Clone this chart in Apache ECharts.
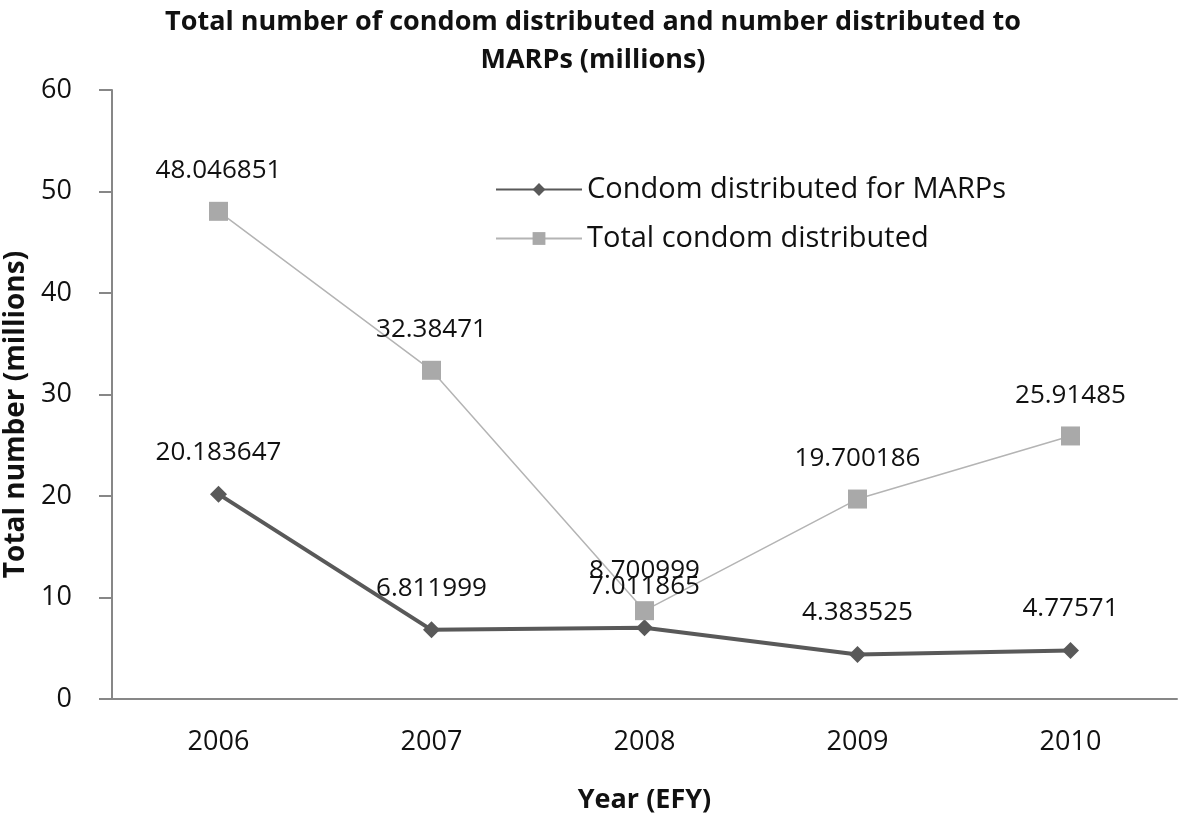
<!DOCTYPE html>
<html>
<head>
<meta charset="utf-8">
<script src="https://cdn.jsdelivr.net/npm/echarts@6/dist/echarts.min.js"></script>
<style>html,body{margin:0;padding:0;background:#fff;}#c{width:1181px;height:818px;}</style>
</head>
<body>
<div id="c"></div>
<script>
const categories = ['2006', '2007', '2008', '2009', '2010'];
const marps = [20.183647, 6.811999, 7.011865, 4.383525, 4.77571];
const total = [48.046851, 32.38471, 8.700999, 19.700186, 25.91485];
const yTicks = [0, 10, 20, 30, 40, 50, 60];

const FONT = '"Open Sans", "Noto Sans", sans-serif';
const chart = echarts.init(document.getElementById('c'));
chart.setOption({
  backgroundColor: '#fff',
  animation: false,
  title: {
    text: 'Total number of condom distributed and number distributed to\nMARPs (millions)',
    left: 588, top: -2, textAlign: 'center',
    textStyle: { fontFamily: FONT, fontWeight: 'bold', fontSize: 27, color: '#111', lineHeight: 38 }
  },
  legend: {
    left: 490, top: 170, orient: 'vertical', itemGap: 20,
    itemWidth: 86, itemHeight: 16,
    textStyle: { fontFamily: FONT, fontSize: 29, color: '#111' },
    data: ['Condom distributed for MARPs', 'Total condom distributed']
  },
  grid: { left: 112, right: 4, top: 90, bottom: 119, containLabel: false, outerBoundsMode: 'none' },
  xAxis: {
    type: 'category', data: categories, boundaryGap: true,
    name: 'Year (EFY)', nameLocation: 'middle', nameGap: 88,
    nameTextStyle: { fontFamily: FONT, fontWeight: 'bold', fontSize: 27, color: '#111' },
    axisLine: { lineStyle: { color: '#878787', width: 2 } },
    axisTick: { show: false },
    axisLabel: { fontFamily: FONT, fontSize: 27, color: '#111', margin: 30 }
  },
  yAxis: {
    type: 'value', min: yTicks[0], max: yTicks[yTicks.length - 1], interval: 10,
    name: 'Total number (millions)', nameLocation: 'middle', nameGap: 72, nameRotate: 90,
    nameTextStyle: { fontFamily: FONT, fontWeight: 'bold', fontSize: 28, color: '#111', padding: [0, 40, 0, 0] },
    axisLine: { show: true, lineStyle: { color: '#878787', width: 2 } },
    axisTick: { show: true, length: 13, lineStyle: { color: '#878787', width: 2 } },
    splitLine: { show: false },
    axisLabel: { fontFamily: FONT, fontSize: 27, color: '#111', margin: 40 }
  },
  series: [
    {
      name: 'Condom distributed for MARPs', type: 'line', data: marps,
      symbol: 'diamond', symbolSize: 17,
      lineStyle: { color: '#595959', width: 4 },
      itemStyle: { color: '#595959' },
      label: { show: true, position: 'top', distance: 20, fontFamily: FONT, fontSize: 26, color: '#111',
        formatter: p => String(p.value) }
    },
    {
      name: 'Total condom distributed', type: 'line', data: total,
      symbol: 'rect', symbolSize: 19,
      lineStyle: { color: '#b4b4b4', width: 1.5 },
      itemStyle: { color: '#a9a9a9' },
      label: { show: true, position: 'top', distance: 18, fontFamily: FONT, fontSize: 26, color: '#111',
        formatter: p => String(p.value) }
    }
  ]
});
</script>
</body>
</html>
